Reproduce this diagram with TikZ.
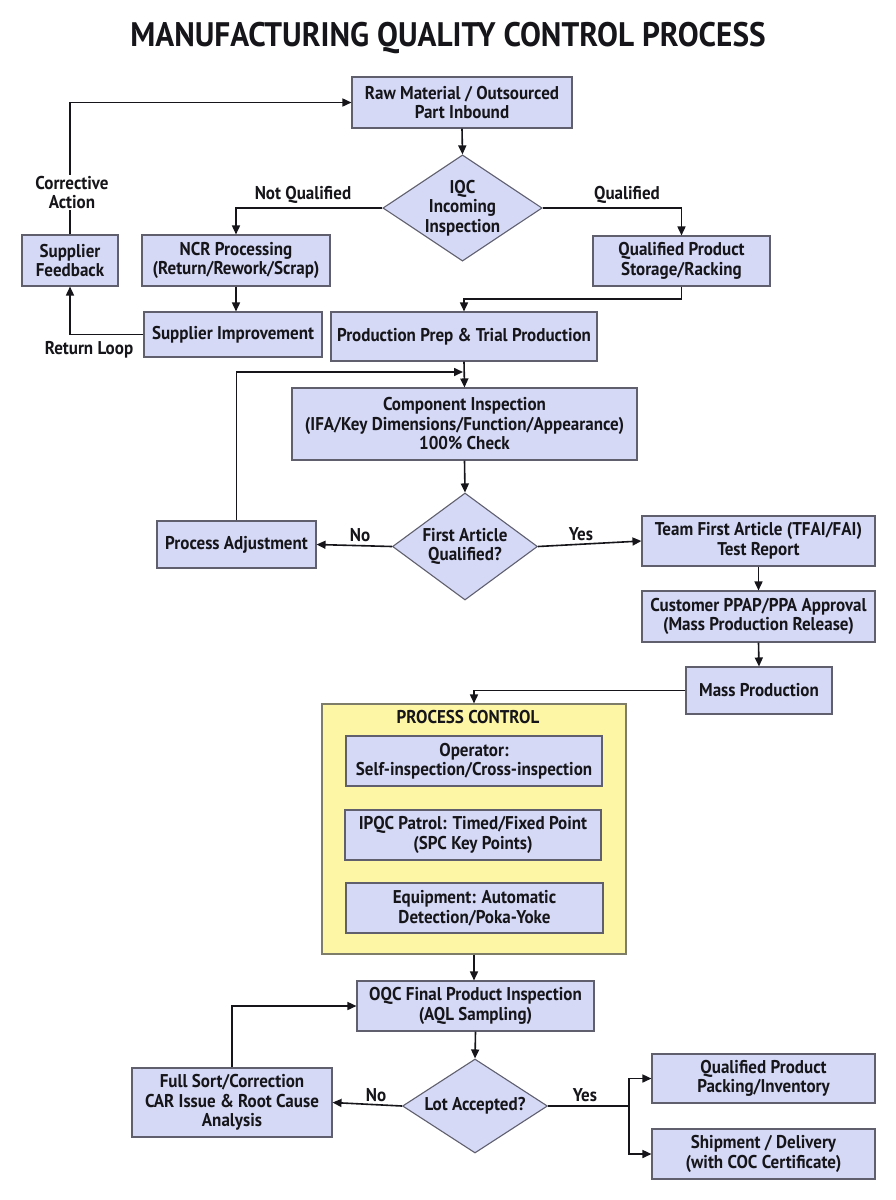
\documentclass[tikz,border=0pt]{standalone}
\usepackage{fontspec}
\setmainfont{PT Sans}[FakeStretch=0.92]
\usetikzlibrary{shapes.geometric,arrows.meta}
\definecolor{boxfill}{RGB}{213,217,246}
\definecolor{boxline}{RGB}{95,95,110}
\definecolor{pcfill}{RGB}{253,246,165}
\definecolor{pcline}{RGB}{125,125,105}
\definecolor{ink}{RGB}{22,22,26}
\begin{document}
\begin{tikzpicture}[x=1pt,y=-1pt,
  txt/.style={font=\bfseries\fontsize{18.5}{19.5}\selectfont, text=ink},
  box/.style={txt, draw=boxline, fill=boxfill, line width=1.1pt, align=center, inner sep=0pt},
  dia/.style={txt, diamond, draw=boxline, fill=boxfill, line width=1.1pt, align=center, inner sep=0pt, shape aspect=1.5},
  arr/.style={-{Triangle[length=9pt,width=8pt]}, line width=1.6pt, draw=ink},
  ln/.style={line width=1.6pt, draw=ink},
  lbl/.style={txt, inner sep=1pt, align=center},
]
\useasboundingbox (0,0) rectangle (896,1200);
\fill[white] (0,0) rectangle (896,1200);

\node[txt, font=\bfseries\fontsize{34}{38}\selectfont] (title) at (448,38) {MANUFACTURING QUALITY CONTROL PROCESS};

% top section
\node[box, minimum width=220, minimum height=51] (raw) at (462,102.5) {Raw Material / Outsourced\\Part Inbound};
\node[dia, minimum width=159, minimum height=106] (iqc) at (462.5,208) {IQC\\Incoming\\Inspection};
\node[box, minimum width=188, minimum height=51] (ncr) at (236,260.5) {NCR Processing\\(Return/Rework/Scrap)};
\node[box, minimum width=96, minimum height=51] (sf) at (70,260.5) {Supplier\\Feedback};
\node[box, minimum width=177, minimum height=50] (stor) at (681.5,261) {Qualified Product\\Storage/Racking};
\node[box, minimum width=178, minimum height=45] (si) at (233,334.5) {Supplier Improvement};
\node[box, minimum width=266, minimum height=49] (prep) at (464,336.5) {Production Prep \& Trial Production};

% first article section
\node[box, minimum width=345, minimum height=72] (comp) at (464.5,424) {Component Inspection\\(IFA/Key Dimensions/Function/Appearance)\\100\% Check};
\node[dia, minimum width=145, minimum height=107, shape aspect=1.35] (fa) at (465,546.5) {First Article\\Qualified?};
\node[box, minimum width=159, minimum height=47] (pa) at (236.5,544.5) {Process Adjustment};
\node[box, minimum width=233, minimum height=50] (team) at (758.5,541) {Team First Article (TFAI/FAI)\\Test Report};
\node[box, minimum width=233, minimum height=51] (ppap) at (758.5,616.5) {Customer PPAP/PPA Approval\\(Mass Production Release)};
\node[box, minimum width=146, minimum height=47] (mass) at (759,690.5) {Mass Production};

% process control
\node[draw=pcline, fill=pcfill, line width=1.1pt, minimum width=304, minimum height=250, inner sep=0pt] (pc) at (474,829) {};
\node[txt] (pctitle) at (468,717) {PROCESS CONTROL};
\node[box, minimum width=256, minimum height=50] (op) at (474,761) {Operator:\\Self-inspection/Cross-inspection};
\node[box, minimum width=256, minimum height=50] (ipqc) at (473,835) {IPQC Patrol: Timed/Fixed Point\\(SPC Key Points)};
\node[box, minimum width=257, minimum height=50] (equip) at (474.5,908) {Equipment: Automatic\\Detection/Poka-Yoke};

% final section
\node[box, minimum width=237, minimum height=50] (oqc) at (475.5,1006) {OQC Final Product Inspection\\(AQL Sampling)};
\node[dia, minimum width=145, minimum height=94] (lot) at (475,1106) {Lot Accepted?};
\node[box, minimum width=200, minimum height=69] (fs) at (232,1102.5) {Full Sort/Correction\\CAR Issue \& Root Cause\\Analysis};
\node[box, minimum width=223, minimum height=49] (pack) at (763.5,1078.5) {Qualified Product\\Packing/Inventory};
\node[box, minimum width=223, minimum height=50] (ship) at (763.5,1154) {Shipment / Delivery\\(with COC Certificate)};

% connectors
\draw[arr] (raw.south) -- (iqc.north);
\draw[arr] (iqc.west) -| (ncr.north);
\node[lbl] (lnq) at (303,195) {Not Qualified};
\draw[arr] (iqc.east) -| (stor.north);
\node[lbl] (lq) at (627,195) {Qualified};
\draw[arr] (ncr.south) -- (ncr.south |- si.north);
\draw[arr] (si.west) -| (sf.south);
\node[lbl] (lrl) at (89,350) {Return Loop};
\draw[arr] (sf.north) |- (raw.west);
\node[lbl, fill=white] (lca) at (72,192.5) {Corrective\\Action};
\coordinate (sbend) at (681.5,299);
\draw[arr] (stor.south) -- (sbend) -| (prep.north);
\draw[arr] (prep.south) -- (comp.north);
\coordinate (pjoin) at (463,372);
\draw[arr] (pa.north) |- (pjoin);
\draw[arr] (comp.south) -- (fa.north);
\draw[arr] (fa.west) -- (pa.east);
\node[lbl] (lno1) at (360,535) {No};
\draw[arr] (fa.east) -- (team.west);
\node[lbl] (lyes1) at (581,534) {Yes};
\draw[arr] (team.south) -- (ppap.north);
\draw[arr] (ppap.south) -- (mass.north);
\draw[arr] (mass.west) -| (pc.north);
\draw[arr] (pc.south) -- (pc.south |- oqc.north);
\draw[arr] (oqc.south) -- (lot.north);
\draw[arr] (lot.west) -- (fs.east);
\node[lbl] (lno2) at (376,1095) {No};
\draw[arr] (fs.north) |- (oqc.west);
\coordinate (br) at (629,1106);
\draw[ln] (lot.east) -- (br);
\draw[arr] (br) |- (pack.west);
\draw[arr] (br) |- (ship.west);
\node[lbl] (lyes2) at (585,1095) {Yes};
\end{tikzpicture}
\end{document}
